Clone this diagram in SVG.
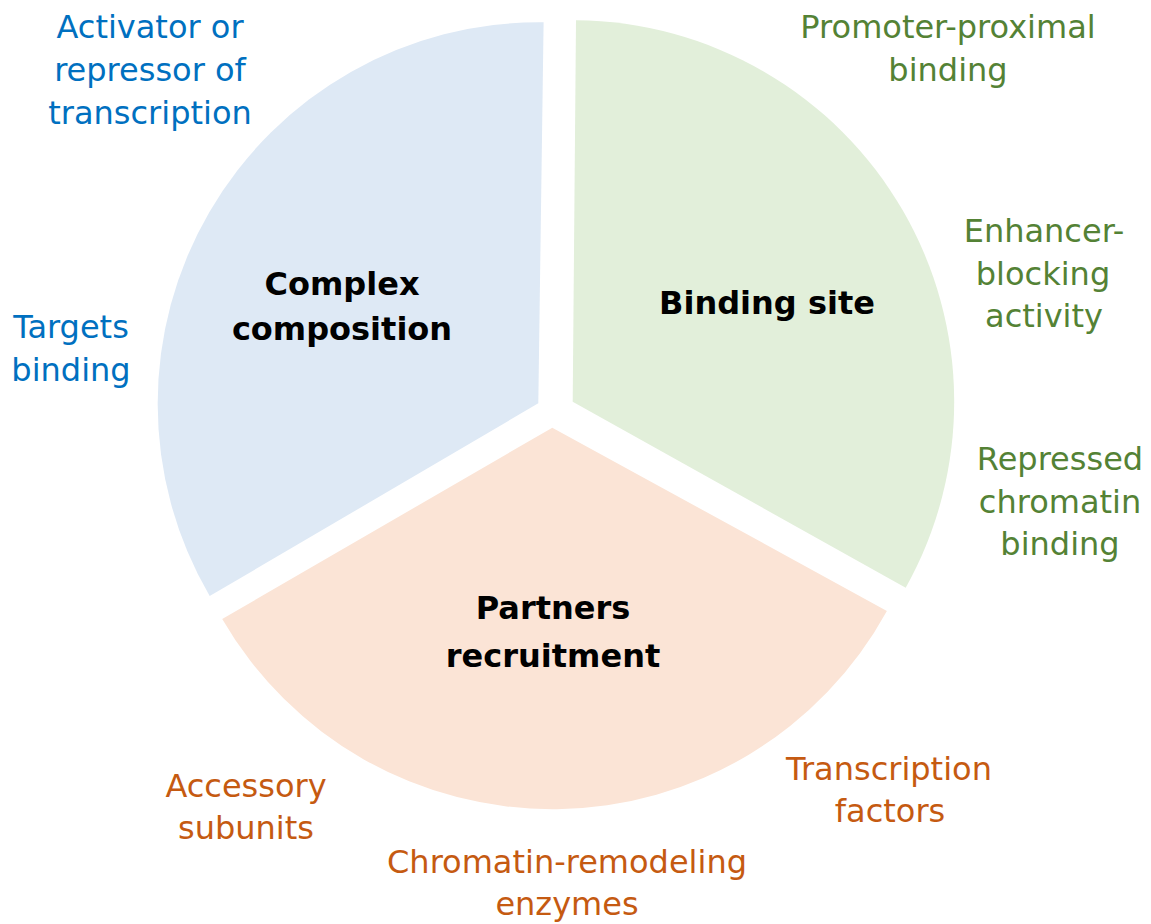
<svg xmlns="http://www.w3.org/2000/svg" width="1151" height="924" viewBox="0 0 1151 924">
<style>
.lbl{font-family:"DejaVu Sans","Liberation Sans",sans-serif;font-size:32px;text-anchor:middle}
.ttl{font-family:"DejaVu Sans","Liberation Sans",sans-serif;font-size:32px;font-weight:bold;text-anchor:middle;fill:#000}
.b{fill:#0070C0}.g{fill:#548235}.o{fill:#C55A11}
</style>
<rect width="1151" height="924" fill="#fff"/>
<g id="complex-composition">
<path d="M 538.3 403.3 L 209.7 596.1 A 381.5 381.5 0 0 1 543.6 22.3 Z" fill="#DEE9F5"/>
<text class="ttl" x="342" y="295">Complex</text>
<text class="ttl" x="342" y="340">composition</text>
<text class="lbl b" x="150" y="38">Activator or</text>
<text class="lbl b" x="150" y="81">repressor of</text>
<text class="lbl b" x="150" y="124">transcription</text>
<text class="lbl b" x="71" y="338">Targets</text>
<text class="lbl b" x="71" y="381">binding</text>
</g>
<g id="binding-site">
<path d="M 572.7 401.7 L 576.0 20.2 A 381.5 381.5 0 0 1 905.7 587.8 Z" fill="#E2EFDA"/>
<text class="ttl" x="767" y="314">Binding site</text>
<text class="lbl g" x="948" y="38">Promoter-proximal</text>
<text class="lbl g" x="948" y="81">binding</text>
<text class="lbl g" x="1044" y="242">Enhancer-</text>
<text class="lbl g" x="1043" y="285">blocking</text>
<text class="lbl g" x="1044" y="327">activity</text>
<text class="lbl g" x="1060" y="470">Repressed</text>
<text class="lbl g" x="1060" y="513">chromatin</text>
<text class="lbl g" x="1060" y="555">binding</text>
</g>
<g id="partners-recruitment">
<path d="M 552.3 427.7 L 886.9 610.9 A 381.5 381.5 0 0 1 222.2 619.0 Z" fill="#FBE4D6"/>
<text class="ttl" x="553" y="619">Partners</text>
<text class="ttl" x="553" y="667">recruitment</text>
<text class="lbl o" x="246" y="797">Accessory</text>
<text class="lbl o" x="246" y="839">subunits</text>
<text class="lbl o" x="889" y="780">Transcription</text>
<text class="lbl o" x="890" y="822">factors</text>
<text class="lbl o" x="567" y="873">Chromatin-remodeling</text>
<text class="lbl o" x="567" y="915">enzymes</text>
</g>
<g id="connectors"/>
</svg>
